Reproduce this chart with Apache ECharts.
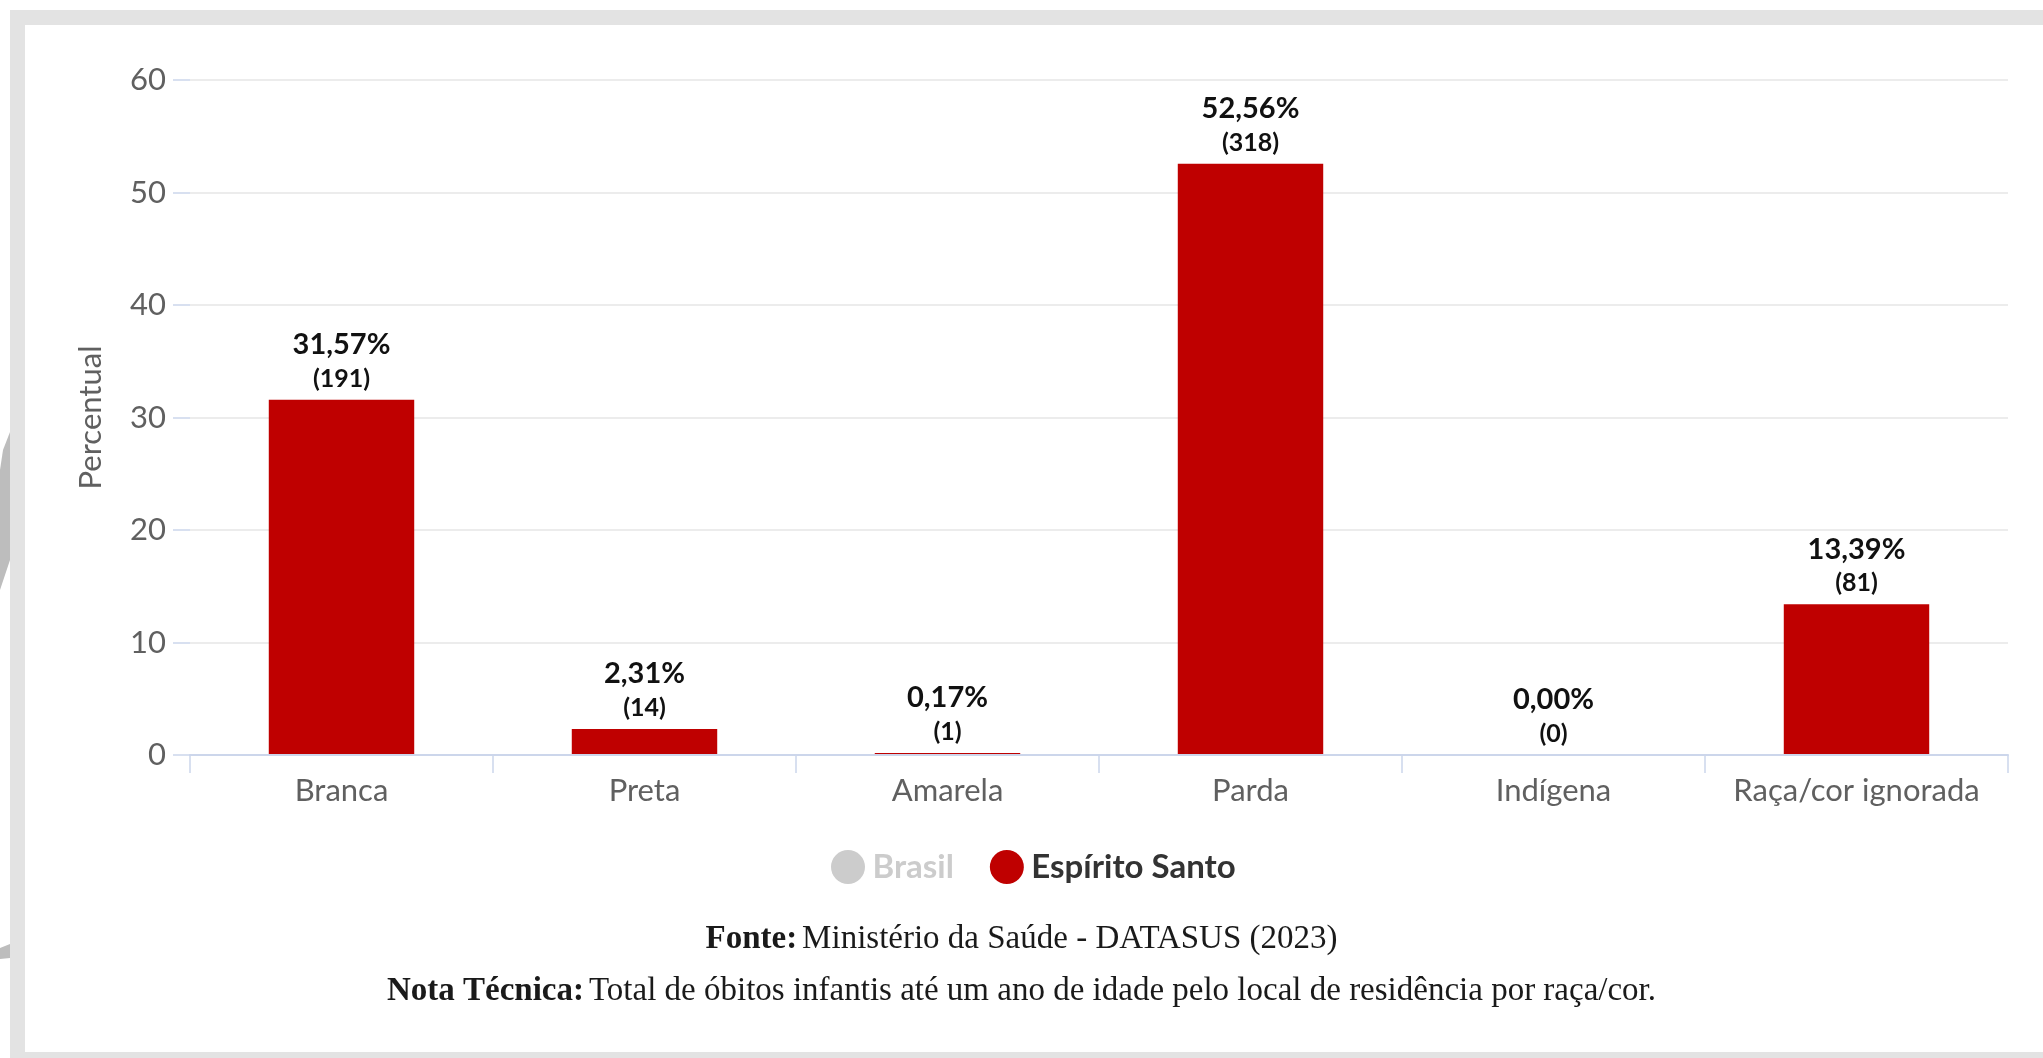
<!DOCTYPE html>
<html>
<head>
<meta charset="utf-8">
<script src="https://cdn.jsdelivr.net/npm/echarts@6/dist/echarts.min.js"></script>
<style>
  html, body { margin: 0; padding: 0; background: #ffffff; }
  #wrap { position: relative; width: 2043px; height: 1058px; overflow: hidden; background: #ffffff; }
  #frame { position: absolute; left: 10px; top: 10px; width: 2033px; height: 1048px; background: #e3e3e3; }
  #panel { position: absolute; left: 25px; top: 25px; width: 2018px; height: 1027px; background: #ffffff; }
  #chart { position: absolute; left: 0; top: 0; width: 2043px; height: 1058px; }
</style>
</head>
<body>
<div id="wrap">
  <div id="frame"></div>
  <div id="panel"></div>
  <div id="chart"></div>
</div>
<script>
// ---- data ----
const categories = ['Branca', 'Preta', 'Amarela', 'Parda', 'Indígena', 'Raça/cor ignorada'];
const percentES = [31.57, 2.31, 0.17, 52.56, 0.00, 13.39];
const countES = [191, 14, 1, 318, 0, 81];
const brasilValues = [];
const seriesNames = ['Brasil', 'Espírito Santo'];
const yTicks = { min: 0, max: 60, interval: 10 };
const yAxisTitle = 'Percentual';
const footerSource = ['Fonte:', 'Ministério da Saúde - DATASUS (2023)'];
const footerNote = ['Nota Técnica:', 'Total de óbitos infantis até um ano de idade pelo local de residência por raça/cor.'];

const chart = echarts.init(document.getElementById('chart'), null, { renderer: 'canvas' });

const sans = 'Lato, "Open Sans", sans-serif';
const serif = '"Liberation Serif", "DejaVu Serif", serif';

function footerTitle(parts, top) {
  return {
    text: '{b|' + parts[0] + '} {n|' + parts[1] + '}',
    left: 'center',
    top: top,
    textStyle: {
      fontWeight: 'normal',
      rich: {
        b: { fontFamily: serif, fontSize: 33, fontWeight: 'bold', color: '#1a1a1a', letterSpacing: -1 },
        n: { fontFamily: serif, fontSize: 33, fontWeight: 'normal', color: '#1a1a1a' }
      }
    }
  };
}

const option = {
  backgroundColor: 'transparent',
  animation: false,
  title: [
    footerTitle(footerSource, 918),
    footerTitle(footerNote, 970)
  ],
  legend: {
    data: seriesNames,
    selected: { 'Brasil': false, 'Espírito Santo': true },
    left: 826,
    top: 845,
    icon: 'circle',
    itemWidth: 35,
    itemHeight: 34,
    itemGap: 36,
    inactiveColor: '#cccccc',
    textStyle: { fontFamily: sans, fontSize: 33, fontWeight: 'bold', color: '#333333', padding: [0, 0, 0, 2] }
  },
  grid: {
    left: 190,
    right: 35,
    top: 80,
    bottom: 303,
    containLabel: false,
    outerBoundsMode: 'none'
  },
  xAxis: {
    type: 'category',
    data: categories,
    boundaryGap: true,
    z: 3,
    axisLine: { show: true, lineStyle: { color: '#ccd6eb', width: 2 } },
    axisTick: { show: true, length: 18, interval: 0, lineStyle: { color: '#ccd6eb', width: 1.5 } },
    axisLabel: { interval: 0, fontFamily: sans, fontSize: 31, color: '#606060', margin: 20 },
    splitLine: { show: false }
  },
  yAxis: {
    type: 'value',
    min: yTicks.min,
    max: yTicks.max,
    interval: yTicks.interval,
    name: yAxisTitle,
    nameLocation: 'middle',
    nameRotate: 90,
    nameGap: 84,
    nameTextStyle: { fontFamily: sans, fontSize: 31, color: '#606060' },
    axisLine: { show: false },
    axisTick: { show: true, length: 17, lineStyle: { color: '#ccd6eb', width: 1.5 } },
    axisLabel: { fontFamily: sans, fontSize: 31, color: '#606060', margin: 24 },
    splitLine: { show: true, lineStyle: { color: '#e6e6e6', width: 1.5 } }
  },
  series: [
    {
      name: seriesNames[0],
      type: 'bar',
      data: brasilValues,
      itemStyle: { color: '#cccccc' }
    },
    {
      name: seriesNames[1],
      type: 'bar',
      data: percentES,
      barWidth: '48%',
      itemStyle: { color: '#bf0000' },
      label: {
        show: true,
        position: 'top',
        distance: 5,
        formatter: function (p) {
          const pct = p.value.toFixed(2).replace('.', ',') + '%';
          return '{p|' + pct + '}\n{c|(' + countES[p.dataIndex] + ')}';
        },
        rich: {
          p: { fontFamily: sans, fontSize: 29, fontWeight: 'bold', color: '#111111', lineHeight: 36, align: 'center' },
          c: { fontFamily: sans, fontSize: 25, fontWeight: 'bold', color: '#111111', lineHeight: 32, align: 'center' }
        }
      }
    }
  ],
  graphic: [
    {
      type: 'polygon',
      silent: true,
      shape: { points: [[10, 432], [3, 450], [0, 470], [0, 590], [10, 560]] },
      style: { fill: '#bdbdbd' }
    },
    {
      type: 'polygon',
      silent: true,
      shape: { points: [[0, 948], [10, 944], [10, 958], [0, 959]] },
      style: { fill: '#bdbdbd' }
    }
  ]
};

chart.setOption(option);
</script>
</body>
</html>
